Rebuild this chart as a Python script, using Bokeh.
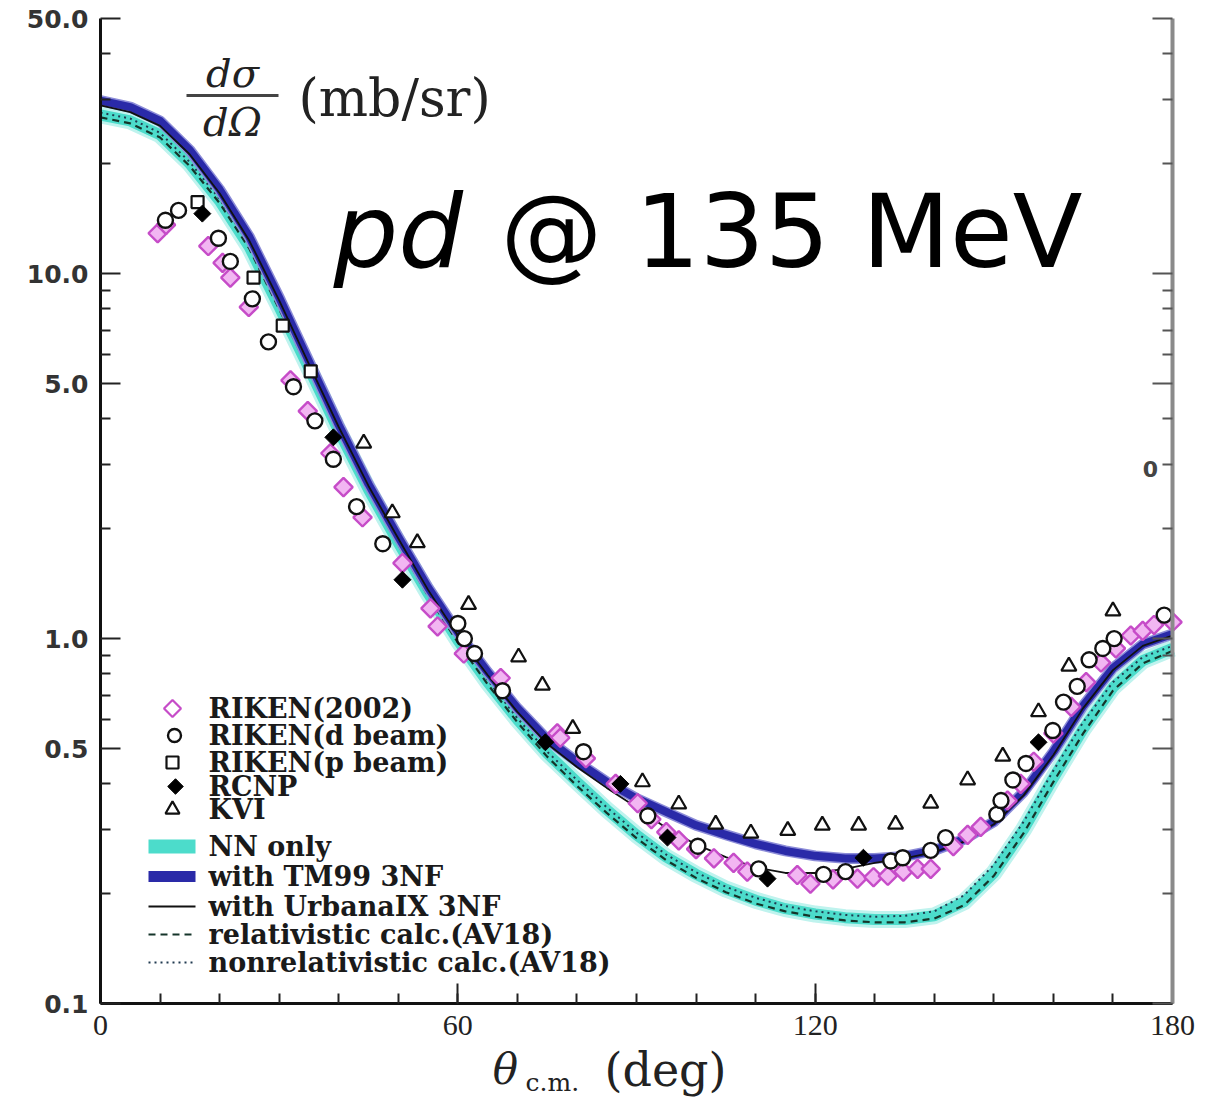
from bokeh.plotting import figure
from bokeh.models import FixedTicker, PrintfTickFormatter, LogAxis, Label
from bokeh.embed import file_html
from bokeh.resources import INLINE

# ---------------- data ----------------
theta_grid = [0, 5, 10, 15, 20, 25, 30, 35, 40, 45, 50, 55, 60, 65, 70, 75, 80, 85, 90,
              95, 100, 105, 110, 115, 120, 125, 130, 135, 140, 145, 150, 155, 160, 165, 170, 175, 180]

nn_only = [27.2, 26.2, 24.0, 20.0, 15.8, 11.8, 8.1, 5.5, 3.7, 2.56, 1.83, 1.33, 0.99, 0.76, 0.60,
           0.485, 0.405, 0.34, 0.29, 0.252, 0.226, 0.206, 0.192, 0.182, 0.176, 0.172, 0.17, 0.17,
           0.174, 0.19, 0.228, 0.30, 0.415, 0.565, 0.735, 0.87, 0.94]
tm99 = [29.8, 28.6, 26.2, 21.8, 17.0, 12.6, 8.6, 5.75, 3.85, 2.65, 1.90, 1.38, 1.04, 0.81, 0.645,
        0.53, 0.46, 0.405, 0.365, 0.335, 0.308, 0.29, 0.274, 0.262, 0.254, 0.25, 0.25, 0.253,
        0.263, 0.282, 0.315, 0.38, 0.49, 0.655, 0.83, 0.965, 1.03]
urbana = [28.9, 27.7, 25.4, 21.2, 16.6, 12.3, 8.45, 5.65, 3.8, 2.62, 1.88, 1.36, 1.02, 0.795, 0.63,
          0.515, 0.445, 0.39, 0.345, 0.303, 0.273, 0.252, 0.236, 0.228, 0.228, 0.234, 0.243, 0.25,
          0.26, 0.278, 0.31, 0.372, 0.48, 0.645, 0.82, 0.955, 1.02]
rel_av18 = [26.8, 25.8, 23.6, 19.7, 15.6, 11.7, 8.0, 5.45, 3.66, 2.53, 1.81, 1.31, 0.975, 0.75, 0.59,
            0.475, 0.395, 0.333, 0.284, 0.247, 0.221, 0.202, 0.188, 0.179, 0.173, 0.169, 0.167, 0.167,
            0.171, 0.186, 0.224, 0.293, 0.405, 0.55, 0.72, 0.855, 0.925]
nonrel_av18 = [27.6, 26.6, 24.3, 20.2, 16.0, 12.0, 8.2, 5.55, 3.73, 2.58, 1.84, 1.34, 1.0, 0.77, 0.605,
               0.49, 0.41, 0.345, 0.294, 0.256, 0.229, 0.209, 0.195, 0.185, 0.179, 0.175, 0.173, 0.174,
               0.179, 0.198, 0.24, 0.315, 0.435, 0.59, 0.76, 0.89, 0.955]

riken2002_theta = [9.6, 11.0, 18.1, 20.5, 21.8, 24.9, 31.9, 34.8, 38.6, 40.8, 44.0, 50.7, 55.4, 56.6,
                   61.0, 67.2, 76.7, 77.2, 81.5, 86.5, 90.2, 92.5, 95.0, 97.1, 100.0, 103.0, 106.3,
                   108.6, 117.0, 119.2, 123.0, 127.1, 129.8, 132.2, 134.8, 137.2, 139.4, 143.2, 145.6,
                   147.8, 152.3, 154.5, 156.7, 160.0, 163.0, 165.5, 168.0, 170.5, 173.0, 175.0, 176.9, 180.0]
riken2002_val = [12.9, 13.6, 11.9, 10.7, 9.75, 8.1, 5.1, 4.2, 3.22, 2.6, 2.15, 1.61, 1.21, 1.08,
                 0.91, 0.78, 0.55, 0.535, 0.47, 0.40, 0.354, 0.32, 0.295, 0.28, 0.265, 0.25, 0.243,
                 0.23, 0.225, 0.213, 0.219, 0.22, 0.222, 0.224, 0.23, 0.234, 0.234, 0.27, 0.29,
                 0.305, 0.36, 0.40, 0.46, 0.55, 0.65, 0.76, 0.86, 0.94, 1.02, 1.05, 1.09, 1.11]

rikend_theta = [10.9, 13.1, 19.8, 21.8, 25.5, 28.2, 32.4, 36.0, 39.1, 43.0, 47.4, 60.0, 61.1, 62.8,
                67.5, 81.1, 91.9, 100.3, 110.5, 121.4, 125.1, 132.7, 134.7, 139.4, 141.9, 150.5,
                151.2, 153.2, 155.4, 159.9, 161.7, 164.0, 166.0, 168.3, 170.2, 178.6]
rikend_val = [14.0, 14.9, 12.5, 10.8, 8.53, 6.5, 4.9, 3.95, 3.1, 2.3, 1.82, 1.10, 1.0, 0.91,
              0.72, 0.49, 0.327, 0.27, 0.234, 0.226, 0.23, 0.246, 0.251, 0.263, 0.285, 0.33,
              0.36, 0.41, 0.455, 0.56, 0.67, 0.74, 0.875, 0.94, 1.0, 1.16]

rikenp_theta = [16.3, 25.7, 30.6, 35.3]
rikenp_val = [15.7, 9.75, 7.2, 5.4]

rcnp_theta = [17.1, 39.1, 50.7, 74.7, 87.3, 95.2, 112.0, 128.1, 157.5]
rcnp_val = [14.6, 3.56, 1.45, 0.52, 0.40, 0.285, 0.22, 0.251, 0.52]

kvi_theta = [44.2, 49.0, 53.2, 61.8, 70.2, 74.2, 79.3, 91.0, 97.1, 103.3, 109.2, 115.4, 121.2,
             127.3, 133.5, 139.4, 145.6, 151.5, 157.5, 162.6, 170.0]
kvi_val = [3.43, 2.21, 1.83, 1.24, 0.89, 0.745, 0.567, 0.405, 0.352, 0.31, 0.293, 0.298, 0.308,
           0.308, 0.31, 0.354, 0.41, 0.476, 0.63, 0.84, 1.19]

legend_labels = ["RIKEN(2002)", "RIKEN(d beam)", "RIKEN(p beam)", "RCNP", "KVI", "NN only",
                 "with TM99 3NF", "with UrbanaIX 3NF", "relativistic calc.(AV18)",
                 "nonrelativistic calc.(AV18)"]

x_ticks = [0, 60, 120, 180]
y_ticks = [0.1, 0.5, 1.0, 5.0, 10.0, 50.0]

# ---------------- layout helpers (page pixels -> data coords) ----------------
FX0, FX1, FY_TOP = 100, 1172, 18
PX_PER_DECADE = 365.0
CANVAS_W, CANVAS_H = 1206, 1103


def X(px):
    return (px - FX0) / (FX1 - FX0) * 180.0


def Y(py):
    return 50.0 * 10 ** (-(py - FY_TOP) / PX_PER_DECADE)


# the frame covers the whole canvas; axes are pinned at the data edges
p = figure(width=CANVAS_W, height=CANVAS_H, x_range=(X(0), X(CANVAS_W)),
           y_range=(Y(CANVAS_H), Y(0)), y_axis_type="log",
           output_backend="svg", toolbar_location=None, min_border=0,
           min_border_left=0, min_border_right=0, min_border_top=0, min_border_bottom=0)
p.background_fill_color = "white"
p.border_fill_color = "white"
p.outline_line_color = None
p.xgrid.visible = False
p.ygrid.visible = False

minor_y = [0.2, 0.3, 0.4, 0.6, 0.7, 0.8, 0.9, 2, 3, 4, 6, 7, 8, 9, 20, 30, 40]
yt = FixedTicker(ticks=y_ticks, minor_ticks=minor_y)
xt = FixedTicker(ticks=x_ticks, minor_ticks=list(range(0, 181, 10)))

xa = p.xaxis[0]
xa.ticker = xt
xa.fixed_location = 0.1
xa.bounds = (0, 180)
xa.axis_line_width = 3
xa.axis_line_color = "#111111"
xa.major_tick_in = 20
xa.major_tick_out = 0
xa.minor_tick_in = 10
xa.minor_tick_out = 0
xa.major_tick_line_width = 2
xa.minor_tick_line_width = 2
xa.major_tick_line_color = "#222222"
xa.minor_tick_line_color = "#222222"
xa.major_label_text_font = "Liberation Serif"
xa.major_label_text_font_size = "30px"
xa.major_label_text_color = "#222222"
xa.major_label_standoff = 12

ya = p.yaxis[0]
ya.ticker = yt
ya.fixed_location = 0
ya.bounds = (0.1, 50)
ya.formatter = PrintfTickFormatter(format="%.1f")
ya.axis_line_width = 3
ya.axis_line_color = "#111111"
ya.major_tick_in = 20
ya.major_tick_out = 0
ya.minor_tick_in = 10
ya.minor_tick_out = 0
ya.major_tick_line_width = 2
ya.minor_tick_line_width = 2
ya.major_tick_line_color = "#222222"
ya.minor_tick_line_color = "#222222"
ya.major_label_text_font = "DejaVu Sans"
ya.major_label_text_font_style = "bold"
ya.major_label_text_font_size = "25px"
ya.major_label_text_color = "#333333"
ya.major_label_standoff = 12

ra = LogAxis(ticker=FixedTicker(ticks=y_ticks, minor_ticks=minor_y), bounds=(0.1, 50),
             fixed_location=180)
ra.axis_line_width = 4
ra.axis_line_color = "#8a8a8a"
ra.major_tick_in = 20
ra.major_tick_out = 0
ra.minor_tick_in = 10
ra.minor_tick_out = 0
ra.major_tick_line_width = 2
ra.minor_tick_line_width = 2
ra.major_tick_line_color = "#555555"
ra.minor_tick_line_color = "#555555"
ra.major_label_text_font_size = "0px"
ra.major_label_text_alpha = 0
p.add_layout(ra, "right")

# ---------------- theory curves ----------------
CYAN = "#4cdccb"
CYAN_HALO = "#bff3ee"
BLUE = "#2a2aa8"
BLUE_HALO = "#8c8cd8"

p.line(theta_grid, nn_only, line_color=CYAN_HALO, line_width=17, line_join="round")
p.line(theta_grid, nn_only, line_color=CYAN, line_width=11, line_join="round")
p.line(theta_grid, rel_av18, line_color="#15352a", line_width=2.2, line_dash="7 5")
p.line(theta_grid, nonrel_av18, line_color="#203a50", line_width=2, line_dash="2 4")
p.line(theta_grid, tm99, line_color=BLUE_HALO, line_width=11, line_join="round")
p.line(theta_grid, tm99, line_color=BLUE, line_width=8, line_join="round")
p.line(theta_grid, urbana, line_color="#111111", line_width=1.8, line_join="round")

# ---------------- data points ----------------
DIA_LINE = "#c64cc8"
DIA_FILL = "#f2b6f2"
p.scatter(riken2002_theta, riken2002_val, marker="square", angle=0.785398, size=13,
          line_color=DIA_LINE, fill_color=DIA_FILL, line_width=2.4)
p.scatter(kvi_theta, kvi_val, marker="triangle", size=15, line_color="#111111",
          fill_color="white", line_width=2.2)
p.scatter(rikend_theta, rikend_val, marker="circle", size=15, line_color="#111111",
          fill_color="white", line_width=2.4)
p.scatter(rikenp_theta, rikenp_val, marker="square", size=12, line_color="#111111",
          fill_color="white", line_width=2.2)
p.scatter(rcnp_theta, rcnp_val, marker="square", angle=0.785398, size=12, line_color="#000000",
          fill_color="#000000", line_width=1)

# ---------------- legend (drawn by hand) ----------------
leg_y = [708, 735, 762, 786, 809, 846, 876, 906, 934, 962]
mx = X(172)
p.scatter([mx], [Y(leg_y[0])], marker="square", angle=0.785398, size=12,
          line_color=DIA_LINE, fill_color="white", line_width=2.2)
p.scatter([X(174)], [Y(leg_y[1])], marker="circle", size=13,
          line_color="#111111", fill_color="white", line_width=2.4)
p.scatter([mx], [Y(leg_y[2])], marker="square", size=12, line_color="#111111",
          fill_color="white", line_width=2.2)
p.scatter([X(175)], [Y(leg_y[3])], marker="square", angle=0.785398, size=11,
          line_color="#000000", fill_color="#000000")
p.scatter([mx], [Y(leg_y[4])], marker="triangle", size=14, line_color="#111111",
          fill_color="white", line_width=2.2)
lx = [X(148), X(195)]
p.line(lx, [Y(leg_y[5])] * 2, line_color=CYAN, line_width=14)
p.line(lx, [Y(leg_y[6])] * 2, line_color=BLUE, line_width=11)
p.line(lx, [Y(leg_y[7])] * 2, line_color="#111111", line_width=2)
p.line(lx, [Y(leg_y[8])] * 2, line_color="#15352a", line_width=2.2, line_dash="7 5")
p.line(lx, [Y(leg_y[9])] * 2, line_color="#203a50", line_width=2, line_dash="2 4")
for lab, ly in zip(legend_labels, leg_y):
    p.add_layout(Label(x=X(208), y=Y(ly), text=lab, text_font="DejaVu Serif",
                       text_font_style="bold", text_font_size="27px", text_color="#1a1a1a",
                       text_align="left", text_baseline="middle"))

# ---------------- annotations ----------------
p.add_layout(Label(x=X(333), y=Y(231), text="pd", text_font="DejaVu Sans",
                   text_font_style="italic", text_font_size="102px", text_color="#000000",
                   text_align="left", text_baseline="middle"))
p.add_layout(Label(x=X(500), y=Y(231), text="@ 135 MeV", text_font="DejaVu Sans",
                   text_font_size="102px", text_color="#000000",
                   text_align="left", text_baseline="middle"))

p.add_layout(Label(x=X(232), y=Y(72), text="dσ", text_font="DejaVu Serif",
                   text_font_style="italic", text_font_size="40px", text_color="#222222",
                   text_align="center", text_baseline="middle"))
p.segment(x0=[X(186)], y0=[Y(95)], x1=[X(278)], y1=[Y(95)], line_color="#444444", line_width=3)
p.add_layout(Label(x=X(232), y=Y(121), text="dΩ", text_font="DejaVu Serif",
                   text_font_style="italic", text_font_size="40px", text_color="#222222",
                   text_align="center", text_baseline="middle"))
p.add_layout(Label(x=X(298), y=Y(97), text="(mb/sr)", text_font="DejaVu Serif",
                   text_font_size="52px", text_color="#222222",
                   text_align="left", text_baseline="middle"))

p.add_layout(Label(x=X(1150), y=Y(468), text="0", text_font="DejaVu Sans",
                   text_font_style="bold", text_font_size="22px", text_color="#444444",
                   text_align="center", text_baseline="middle"))

# x axis title: theta_{c.m.} (deg)
p.add_layout(Label(x=X(505), y=Y(1069), text="θ", text_font="DejaVu Serif",
                   text_font_style="italic", text_font_size="42px", text_color="#222222",
                   text_align="center", text_baseline="middle"))
p.add_layout(Label(x=X(525), y=Y(1082), text="c.m.", text_font="DejaVu Serif",
                   text_font_size="25px", text_color="#222222",
                   text_align="left", text_baseline="middle"))
p.add_layout(Label(x=X(604), y=Y(1069), text="(deg)", text_font="DejaVu Serif",
                   text_font_size="46px", text_color="#222222",
                   text_align="left", text_baseline="middle"))

open("out.html", "w").write(file_html(p, INLINE))
